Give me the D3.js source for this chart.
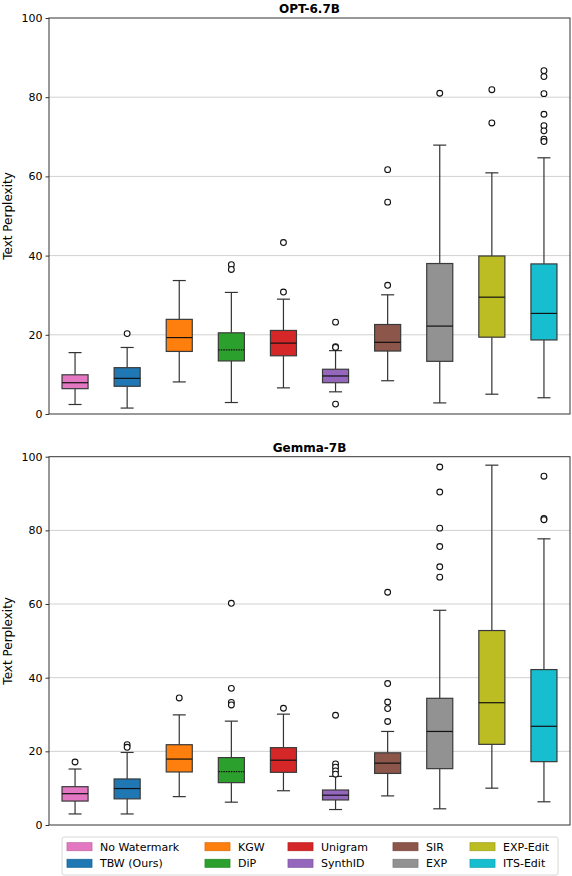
<!DOCTYPE html>
<html>
<head>
<meta charset="utf-8">
<script src="https://cdn.jsdelivr.net/npm/d3@7"></script>
<style>
  body { margin: 0; background: #fff; }
  text { font-family: "DejaVu Sans", sans-serif; }
</style>
</head>
<body>
<script>
var W = 572, H = 876;

var methods = ["No Watermark", "TBW (Ours)", "KGW", "DiP", "Unigram", "SynthID", "SIR", "EXP", "EXP-Edit", "ITS-Edit"];
var colors = ["#e377c2", "#1f77b4", "#ff7f0e", "#2ca02c", "#d62728", "#9467bd", "#8c564b", "#929292", "#bcbd22", "#17becf"];
var yTicks = [0, 20, 40, 60, 80, 100];

// OPT-6.7B
var optLow = [2.4, 1.5, 8.1, 2.9, 6.6, 5.6, 8.4, 2.8, 5.0, 4.1];
var optQ1 = [6.4, 7.0, 15.8, 13.4, 14.7, 7.9, 15.9, 13.3, 19.4, 18.7];
var optMed = [7.9, 9.0, 19.3, 16.2, 17.9, 9.6, 18.1, 22.2, 29.5, 25.4];
var optQ3 = [9.9, 11.7, 23.9, 20.5, 21.1, 11.3, 22.6, 38.0, 39.9, 37.9];
var optHigh = [15.5, 16.8, 33.7, 30.7, 29.0, 16.0, 30.1, 67.9, 60.9, 64.7];
var optOut = [[], [20.3], [], [37.7, 36.5], [43.3, 30.8], [23.2, 17.0, 16.8, 2.5],
  [61.7, 53.5, 32.5], [81.0], [81.9, 73.5], [86.7, 85.2, 80.9, 75.7, 72.8, 71.5, 69.4, 68.8]];

// Gemma-7B
var gemLow = [3.0, 3.0, 7.7, 6.2, 9.3, 4.2, 7.9, 4.4, 10.0, 6.3];
var gemQ1 = [6.5, 7.1, 14.4, 11.5, 14.3, 6.8, 14.0, 15.3, 21.9, 17.2];
var gemMed = [8.5, 9.9, 17.9, 14.5, 17.6, 8.1, 16.8, 25.4, 33.2, 26.8];
var gemQ3 = [10.4, 12.5, 21.8, 18.3, 21.0, 9.5, 19.6, 34.4, 52.8, 42.2];
var gemHigh = [15.2, 19.7, 29.9, 28.2, 30.1, 13.2, 25.4, 58.3, 97.7, 77.7];
var gemOut = [[17.1], [21.8, 21.1], [34.5], [60.2, 37.1, 33.3, 32.6], [31.7],
  [29.8, 16.6, 15.7, 14.7, 13.8], [63.2, 38.4, 33.4, 31.6, 28.1],
  [97.2, 90.4, 80.6, 75.6, 70.1, 67.3], [], [94.7, 83.2, 82.9]];

var svg = d3.select("body").append("svg")
  .attr("width", W).attr("height", H);

var x = d3.scalePoint()
  .domain(methods)
  .range([49, 570])
  .padding(0.5);
var boxW = x.step() * 0.5;

function panel(title, top, bottom, low, q1, med, q3, high, outs) {
  var y = d3.scaleLinear().domain([0, 100]).range([bottom, top]);
  var g = svg.append("g");

  // grid
  g.selectAll(".grid").data(yTicks.slice(1, -1)).enter().append("line")
    .attr("x1", 49).attr("x2", 570)
    .attr("y1", function (d) { return y(d); })
    .attr("y2", function (d) { return y(d); })
    .attr("stroke", "#d0d0d0").attr("stroke-width", 1);

  var boxes = g.selectAll(".box").data(methods).enter().append("g");

  // whiskers
  boxes.append("line")
    .attr("x1", function (d) { return x(d); }).attr("x2", function (d) { return x(d); })
    .attr("y1", function (d, i) { return y(low[i]); })
    .attr("y2", function (d, i) { return y(q1[i]); })
    .attr("stroke", "#333").attr("stroke-width", 1.2);
  boxes.append("line")
    .attr("x1", function (d) { return x(d); }).attr("x2", function (d) { return x(d); })
    .attr("y1", function (d, i) { return y(high[i]); })
    .attr("y2", function (d, i) { return y(q3[i]); })
    .attr("stroke", "#333").attr("stroke-width", 1.2);
  // caps
  [low, high].forEach(function (arr) {
    boxes.append("line")
      .attr("x1", function (d) { return x(d) - boxW / 4; })
      .attr("x2", function (d) { return x(d) + boxW / 4; })
      .attr("y1", function (d, i) { return y(arr[i]); })
      .attr("y2", function (d, i) { return y(arr[i]); })
      .attr("stroke", "#333").attr("stroke-width", 1.2);
  });

  // boxes
  boxes.append("rect")
    .attr("x", function (d) { return x(d) - boxW / 2; })
    .attr("y", function (d, i) { return y(q3[i]); })
    .attr("width", boxW)
    .attr("height", function (d, i) { return y(q1[i]) - y(q3[i]); })
    .attr("fill", function (d, i) { return colors[i]; })
    .attr("stroke", "#3a3a3a").attr("stroke-width", 1.2);

  // medians
  boxes.append("line")
    .attr("x1", function (d) { return x(d) - boxW / 2; })
    .attr("x2", function (d) { return x(d) + boxW / 2; })
    .attr("y1", function (d, i) { return y(med[i]); })
    .attr("y2", function (d, i) { return y(med[i]); })
    .attr("stroke", "#111").attr("stroke-width", 1.2)
    .attr("stroke-dasharray", function (d) { return d === "DiP" ? "1.5,1" : null; });

  // outliers
  boxes.selectAll("circle")
    .data(function (d, i) { return outs[i].map(function (v) { return { m: d, v: v }; }); })
    .enter().append("circle")
    .attr("cx", function (d) { return x(d.m); })
    .attr("cy", function (d) { return y(d.v); })
    .attr("r", 2.9)
    .attr("fill", "#fff").attr("stroke", "#111").attr("stroke-width", 1.1);

  // frame
  g.append("rect")
    .attr("x", 49).attr("y", top)
    .attr("width", 570 - 49).attr("height", bottom - top)
    .attr("fill", "none").attr("stroke", "#333").attr("stroke-width", 1);

  // axis
  var axis = g.append("g")
    .attr("transform", "translate(49,0)")
    .call(d3.axisLeft(y).tickValues(yTicks).tickSize(3.5).tickPadding(3));
  axis.select(".domain").remove();
  axis.selectAll("text").attr("font-size", 11).attr("fill", "#000")
    .style("font-family", "DejaVu Sans, sans-serif");
  axis.selectAll("line").attr("stroke", "#333");

  g.append("text")
    .attr("x", (49 + 570) / 2).attr("y", top - 5)
    .attr("text-anchor", "middle")
    .attr("font-size", 12).attr("font-weight", "bold")
    .text(title);

  g.append("text")
    .attr("transform", "translate(12," + ((top + bottom) / 2) + ") rotate(-90)")
    .attr("text-anchor", "middle")
    .attr("font-size", 12)
    .text("Text Perplexity");
}

panel("OPT-6.7B", 18, 414, optLow, optQ1, optMed, optQ3, optHigh, optOut);
panel("Gemma-7B", 456.7, 825, gemLow, gemQ1, gemMed, gemQ3, gemHigh, gemOut);

// legend
var legendOrder = [0, 2, 4, 6, 8, 1, 3, 5, 7, 9];
var colX = [67, 205, 288, 393, 470];
var legend = svg.append("g");
legend.append("rect")
  .attr("x", 62).attr("y", 837).attr("width", 496).attr("height", 38)
  .attr("rx", 2).attr("fill", "#fff").attr("stroke", "#d8d8d8").attr("stroke-width", 1);

var items = legend.selectAll(".item").data(legendOrder).enter().append("g")
  .attr("transform", function (d, k) {
    return "translate(" + colX[k % 5] + "," + (k < 5 ? 846.7 : 863.3) + ")";
  });
items.append("rect")
  .attr("x", 0).attr("y", -4).attr("width", 25).attr("height", 8)
  .attr("fill", function (d) { return colors[d]; })
  .attr("stroke", function (d) { return d3.color(colors[d]).darker(0.4); })
  .attr("stroke-width", 0.8);
items.append("text")
  .attr("x", 33).attr("y", 4)
  .attr("font-size", 11)
  .text(function (d) { return methods[d]; });
</script>
</body>
</html>
